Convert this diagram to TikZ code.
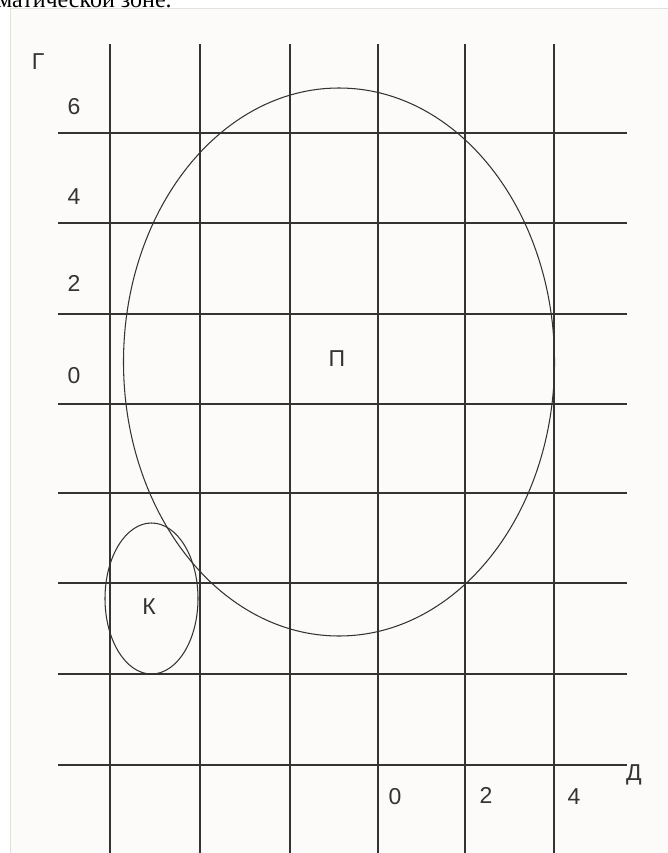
\documentclass[tikz,border=0pt]{standalone}
\usepackage{fontspec}
\setmainfont{Liberation Sans}
\newfontfamily\serifcap{Liberation Serif}
\definecolor{paper}{HTML}{FCFBF9}
\definecolor{frameline}{HTML}{E2E2DC}
\definecolor{gridc}{HTML}{333333}
\begin{document}
\begin{tikzpicture}[x=1pt,y=-1pt,
  gridline/.style={draw=gridc,line width=1.2pt},
  zone/.style={draw=gridc,line width=1.05pt},
  lbl/.style={font=\fontsize{23}{23}\selectfont,text=gridc,inner sep=0pt},
  captext/.style={font=\serifcap\fontsize{24}{24}\selectfont,inner sep=0pt,anchor=base west}]
\useasboundingbox (0,0) rectangle (668,853);
\fill[white] (0,0) rectangle (668,853);
\filldraw[fill=paper,draw=frameline,line width=1pt] (10,9) rectangle (680,870);
\node[captext] (caption) at (-3,8) {матической зоне.};
% vertical lines
\foreach \x/\n in {110/v1,200/v2,290/v3,378/v4,465/v5,554/v6}{
  \coordinate (\n t) at (\x,44);
  \coordinate (\n b) at (\x,853);
  \draw[gridline] (\n t) -- (\n b);
}
% horizontal lines
\foreach \y/\n in {133/h1,223/h2,314/h3,404/h4,493/h5,583/h6,674/h7,765/h8}{
  \coordinate (\n l) at (58,\y);
  \coordinate (\n r) at (627,\y);
  \draw[gridline] (\n l) -- (\n r);
}
% zones
\draw[zone] (339,362) ellipse [x radius=215.5, y radius=274];
\draw[zone] (151.5,598.5) ellipse [x radius=46.5, y radius=75.5];
% labels
\node[lbl] (G) at (38,62) {Г};
\node[lbl] (y6) at (74,107) {6};
\node[lbl] (y4) at (74,197) {4};
\node[lbl] (y2) at (74,283) {2};
\node[lbl] (y0) at (74,376) {0};
\node[lbl] (P) at (337,359) {П};
\node[lbl] (K) at (149,607) {К};
\node[lbl] (D) at (634,775) {Д};
\node[lbl] (x0) at (395,797) {0};
\node[lbl] (x2) at (486,795) {2};
\node[lbl] (x4) at (574,797) {4};
\end{tikzpicture}
\end{document}
